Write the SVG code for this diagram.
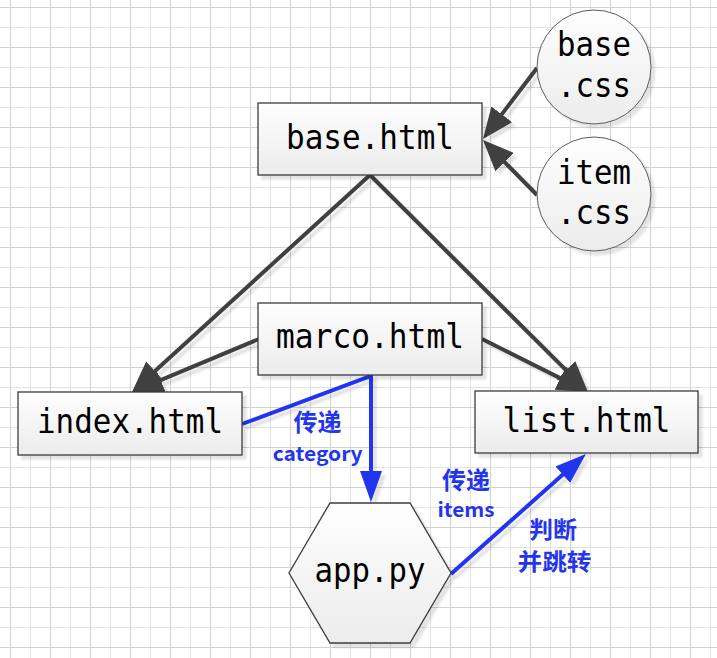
<svg xmlns="http://www.w3.org/2000/svg" width="717" height="658" viewBox="0 0 717 658">
<defs>
  <pattern id="grid" x="10" y="7" width="40" height="40" patternUnits="userSpaceOnUse">
    <rect x="0" y="0" width="40" height="40" fill="#ffffff"/>
    <path d="M20.5,0 V40 M0,20.5 H40" stroke="#e3e3e3" stroke-width="1" fill="none"/>
    <path d="M0.5,0 V40 M0,0.5 H40" stroke="#d2d2d2" stroke-width="1" fill="none"/>
  </pattern>
  <linearGradient id="fillg" x1="0" y1="0" x2="0" y2="1">
    <stop offset="0" stop-color="#fefefe"/>
    <stop offset="1" stop-color="#ececec"/>
  </linearGradient>
  <filter id="sh" x="-20%" y="-20%" width="140%" height="140%">
    <feDropShadow dx="4" dy="4" stdDeviation="0.8" flood-color="#000" flood-opacity="0.11"/>
  </filter>
  <marker id="ad" viewBox="0 0 31 26" refX="11" refY="13" markerWidth="31" markerHeight="26" markerUnits="userSpaceOnUse" orient="auto">
    <path d="M0,0 L31,13 L0,26 z" fill="#404040"/>
  </marker>
  <marker id="ab" viewBox="0 0 31 22" refX="11" refY="11" markerWidth="31" markerHeight="22" markerUnits="userSpaceOnUse" orient="auto">
    <path d="M0,0 L31,11 L0,22 z" fill="#2435ee"/>
  </marker>
  <style>
    .box { fill: url(#fillg); stroke: #3c3c3c; stroke-width: 1.3; filter: url(#sh); }
    .circ { fill: url(#fillg); stroke: #5a5a5a; stroke-width: 1; filter: url(#sh); }
    .lbl { font-family: "DejaVu Sans Mono", "Liberation Mono", monospace; font-size: 33px; fill: #000; text-anchor: middle; }
    .dk { stroke: #404040; stroke-width: 4; fill: none; marker-end: url(#ad); }
    .bl { stroke: #2435ee; stroke-width: 4; fill: none; stroke-linejoin: miter; }
    .bt { font-family: "Noto Sans CJK SC", "Noto Sans", sans-serif; font-weight: bold; fill: #2435ee; text-anchor: middle; }
  </style>
</defs>
<rect x="0" y="0" width="717" height="658" fill="url(#grid)"/>

<g id="connectors" filter="url(#sh)">
  <path class="dk" d="M537,68 L495.1,123.1"/>
  <path class="dk" d="M537,195 L497,154.3"/>
  <path class="dk" d="M370,175 L146.8,378.5"/>
  <path class="dk" d="M370,175 L573.8,377.9"/>
  <path class="dk" d="M259,339 L150.5,384.3"/>
  <path class="dk" d="M482,339 L570.1,383.1"/>
  <path class="bl" d="M242,424 L371,376 L371,482" marker-end="url(#ab)"/>
  <path class="bl" d="M451,574 L571,467.3" marker-end="url(#ab)"/>
</g>

<g id="base_html">
  <rect class="box" x="258" y="103" width="224" height="72"/>
  <text class="lbl" x="370" y="149" textLength="168" lengthAdjust="spacingAndGlyphs">base.html</text>
</g>
<g id="base_css">
  <circle class="circ" cx="594" cy="67" r="57"/>
  <text class="lbl" x="594" y="56" textLength="74" lengthAdjust="spacingAndGlyphs">base</text>
  <text class="lbl" x="594" y="97" textLength="74" lengthAdjust="spacingAndGlyphs">.css</text>
</g>
<g id="item_css">
  <circle class="circ" cx="594" cy="194" r="57"/>
  <text class="lbl" x="594" y="184" textLength="74" lengthAdjust="spacingAndGlyphs">item</text>
  <text class="lbl" x="594" y="224" textLength="74" lengthAdjust="spacingAndGlyphs">.css</text>
</g>
<g id="marco_html">
  <rect class="box" x="258" y="303" width="224" height="72"/>
  <text class="lbl" x="370" y="348" textLength="188" lengthAdjust="spacingAndGlyphs">marco.html</text>
</g>
<g id="index_html">
  <rect class="box" x="18" y="392" width="224" height="63"/>
  <text class="lbl" x="130" y="433" textLength="186" lengthAdjust="spacingAndGlyphs">index.html</text>
</g>
<g id="list_html">
  <rect class="box" x="475" y="391" width="223" height="62"/>
  <text class="lbl" x="586.5" y="432" textLength="168" lengthAdjust="spacingAndGlyphs">list.html</text>
</g>
<g id="app_py">
  <polygon class="box" points="330,503 410,503 451,573 410,643 330,643 289,573"/>
  <text class="lbl" x="370" y="582" textLength="111" lengthAdjust="spacingAndGlyphs">app.py</text>
</g>

<g id="labels">
  <text class="bt" x="317.5" y="431" font-size="24">传递</text>
  <text class="bt" x="317.7" y="461" font-size="20" textLength="90" lengthAdjust="spacingAndGlyphs">category</text>
  <text class="bt" x="466" y="489" font-size="24">传递</text>
  <text class="bt" x="466" y="517" font-size="20" textLength="57" lengthAdjust="spacingAndGlyphs">items</text>
  <text class="bt" x="553" y="538" font-size="23" textLength="48" lengthAdjust="spacingAndGlyphs">判断</text>
  <text class="bt" x="554.5" y="570" font-size="23" textLength="74" lengthAdjust="spacingAndGlyphs">并跳转</text>
</g>
</svg>
